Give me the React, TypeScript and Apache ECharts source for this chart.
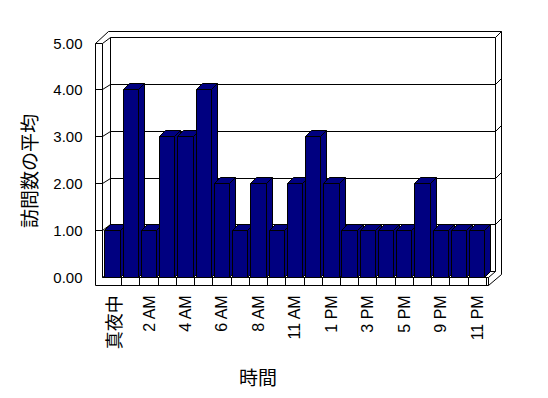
import React, { useEffect, useRef } from "react";
import * as echarts from "echarts";

const categories = [
  "真夜中", "1 AM", "2 AM", "3 AM", "4 AM", "5 AM", "6 AM", "7 AM", "8 AM", "9 AM", "11 AM",
  "12 PM", "1 PM", "2 PM", "3 PM", "4 PM", "5 PM", "8 PM", "9 PM", "10 PM", "11 PM",
];
const visits = [1, 4, 1, 3, 3, 4, 2, 1, 2, 1, 2, 3, 2, 1, 1, 1, 1, 2, 1, 1, 1];
const yTicks = [0, 1, 2, 3, 4, 5];
const xTitle = "時間";
const yTitle = "訪問数の平均";

const NAVY = "#000080";
const LATIN = '"Liberation Sans", Arial, sans-serif';
const CJK = '"Noto Sans CJK JP", sans-serif';

const s = (v: number) => Math.floor(v) + 0.5;

export default function App() {
  const ref = useRef<HTMLDivElement>(null);
  useEffect(() => {
    document.body.style.margin = "0";
    const chart = echarts.init(ref.current!, null, { renderer: "svg" });
    const N = categories.length;
    const yMax = yTicks[yTicks.length - 1];
    const P = [7.5, -5.5];
    const D = [13, -11.5];
    const BD = [6, -6];

    const line = (x1: number, y1: number, x2: number, y2: number) => ({
      type: "line",
      shape: { x1: s(x1), y1: s(y1), x2: s(x2), y2: s(y2) },
      style: { stroke: "#000", lineWidth: 1, fill: null },
    });

    const frameRender = (params: any, api: any) => {
      const c0 = api.coord([0, 0]);
      const band = api.size([1, 0])[0];
      const xl = c0[0] - band / 2;
      const xr = api.coord([N - 1, 0])[0] + band / 2;
      const yb = c0[1];
      const yt = api.coord([0, yMax])[1];
      const wi = xl - 1;
      const wo = wi - 7;
      const fr = xr + 1.7;
      const fb = yb + 8.5;
      const ch: any[] = [];
      ch.push({
        type: "polygon",
        shape: {
          points: [
            [s(wo), s(yt)], [s(wo + D[0]), s(yt + D[1])], [s(fr + D[0]), s(yt + D[1])],
            [s(fr + D[0]), s(fb + D[1])], [s(fr), s(fb)], [s(wo), s(fb)],
          ],
        },
        style: { fill: "#fff", stroke: "#000", lineWidth: 1 },
      });
      ch.push(line(wi, yt, wi, yb));
      ch.push(line(wo, yt, wi, yt));
      ch.push(line(wi, yt, wi + P[0], yt + P[1]));
      ch.push(line(wi + P[0], yt + P[1], fr + P[0], yt + P[1]));
      ch.push(line(wi + P[0], yt + P[1], wi + P[0], yb + P[1]));
      ch.push(line(fr + P[0], yt + P[1], fr + P[0], yb + P[1]));
      ch.push(line(wi + P[0], yb + P[1], fr + P[0], yb + P[1]));
      ch.push(line(fr + P[0], yt + P[1], fr + D[0], yt + D[1]));
      ch.push(line(wi, yb, fr, yb));
      ch.push(line(fr, yb, fr, fb));
      ch.push(line(fr, yb, fr + P[0], yb + P[1]));
      ch.push(line(wi, yb, wi + P[0], yb + P[1]));
      for (let i = 1; i <= N; i++) {
        const x = xl + band * i;
        ch.push(line(x, yb, x, fb));
      }
      yTicks.slice(1, -1).forEach((v) => {
        const y = api.coord([0, v])[1];
        ch.push(line(wo, y, wi, y));
        ch.push(line(wi, y, wi + P[0], y + P[1]));
        ch.push(line(wi + P[0], y + P[1], fr + P[0], y + P[1]));
        ch.push(line(fr + P[0], y + P[1], fr + D[0], y + D[1]));
      });
      return { type: "group", children: ch };
    };

    const barRender = (params: any, api: any) => {
      const i = api.value(0);
      const v = api.value(1);
      const band = api.size([1, 0])[0];
      const top = api.coord([i, v]);
      const base = api.coord([i, 0]);
      const bw = band * 0.84;
      const x1 = s(top[0] - bw / 2);
      const x2 = s(top[0] + bw / 2);
      const yT = s(top[1]);
      const yB = s(base[1]);
      const st = { fill: NAVY, stroke: "#000", lineWidth: 1 };
      return {
        type: "group",
        children: [
          { type: "polygon", shape: { points: [[x2, yT], [x2 + BD[0], yT + BD[1]], [x2 + BD[0], yB + BD[1]], [x2, yB]] }, style: st },
          { type: "polygon", shape: { points: [[x1, yT], [x1 + BD[0], yT + BD[1]], [x2 + BD[0], yT + BD[1]], [x2, yT]] }, style: st },
          { type: "polygon", shape: { points: [[x1, yT], [x2, yT], [x2, yB], [x1, yB]] }, style: st },
        ],
      };
    };

    chart.setOption({
      animation: false,
      backgroundColor: "#fff",
      grid: { left: 103.5, right: 61.7, top: 43, bottom: 120.7 },
      xAxis: {
        type: "category",
        data: categories,
        axisLine: { show: false },
        axisTick: { show: false },
        splitLine: { show: false },
        axisLabel: {
          interval: 1,
          rotate: 90,
          margin: 18,
          color: "#000",
          fontFamily: LATIN,
          fontSize: 16,
          formatter: (val: string) => (/[^\x00-\x7F]/.test(val) ? `{cjk|${val}}` : val),
          rich: { cjk: { fontFamily: CJK, fontSize: 18, color: "#000" } },
        },
      },
      yAxis: {
        type: "value",
        min: 0,
        max: yMax,
        interval: 1,
        axisLine: { show: false },
        axisTick: { show: false },
        splitLine: { show: false },
        axisLabel: {
          margin: 21,
          color: "#000",
          fontFamily: LATIN,
          fontSize: 15,
          formatter: (v: number) => v.toFixed(2),
        },
      },
      graphic: [
        {
          type: "text",
          x: 258,
          y: 376,
          style: {
            text: xTitle,
            fill: "#000",
            fontFamily: CJK,
            fontSize: 19,
            textAlign: "center",
            textVerticalAlign: "middle",
          },
        },
        {
          type: "text",
          x: 28,
          y: 171,
          rotation: Math.PI / 2,
          style: {
            text: yTitle,
            fill: "#000",
            fontFamily: CJK,
            fontSize: 19,
            textAlign: "center",
            textVerticalAlign: "middle",
          },
        },
      ],
      series: [
        { type: "custom", name: "frame", renderItem: frameRender, data: [[0, 0]], clip: false, silent: true, z: 1 },
        {
          type: "custom",
          name: "訪問数の平均",
          renderItem: barRender,
          data: visits.map((v, i) => [i, v]),
          clip: false,
          silent: true,
          z: 2,
        },
      ],
    });
    return () => chart.dispose();
  }, []);
  return <div ref={ref} style={{ position: "absolute", left: 0, top: 0, width: 548, height: 398 }} />;
}
